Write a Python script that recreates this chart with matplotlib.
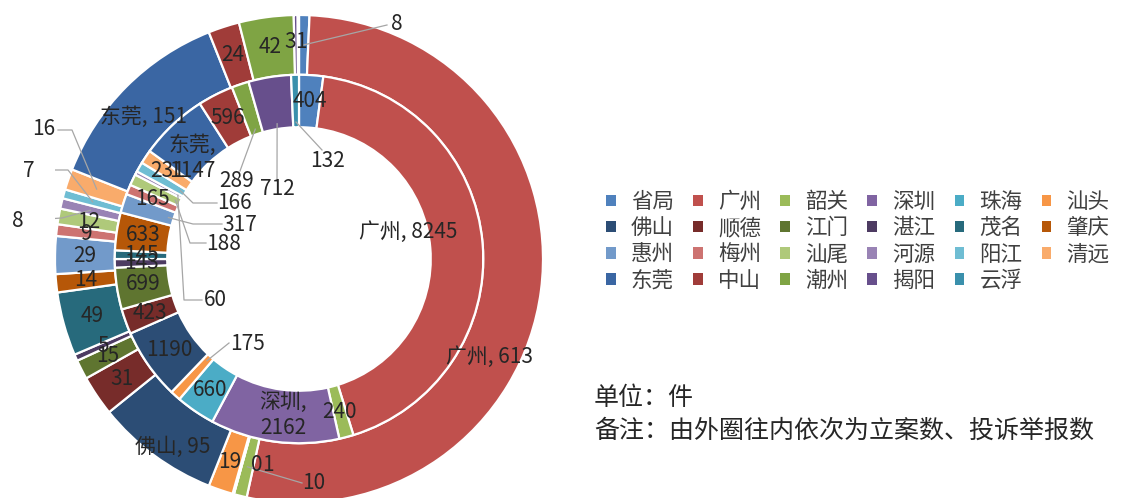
import numpy as np
import matplotlib
matplotlib.use('Agg')
import matplotlib.pyplot as plt
from matplotlib.patches import Patch

plt.rcParams['font.family'] = ['Noto Sans CJK SC', 'DejaVu Sans']

# ---------------- data ----------------
categories = ['省局', '广州', '韶关', '深圳', '珠海', '汕头',
              '佛山', '顺德', '江门', '湛江', '茂名', '肇庆',
              '惠州', '梅州', '汕尾', '河源', '阳江', '清远',
              '东莞', '中山', '潮州', '揭阳', '云浮']
case_counts = [8, 613, 10, 0, 1, 19,
               95, 31, 15, 5, 49, 14,
               29, 9, 12, 8, 7, 16,
               151, 24, 42, 3, 1]
complaint_counts = [404, 8245, 240, 2162, 660, 175,
                    1190, 423, 699, 143, 145, 633,
                    317, 165, 188, 60, 166, 231,
                    1147, 596, 289, 712, 132]
colors = ['#4F81BD', '#C0504D', '#9BBB59', '#8064A2', '#4BACC6', '#F79646',
          '#2C4D75', '#772C2A', '#5F7530', '#4D3B62', '#276A7C', '#B65708',
          '#729ACA', '#CD7371', '#AFC97A', '#9983B5', '#6FBDD3', '#F9AB6B',
          '#3A66A3', '#A03C39', '#7FA444', '#674F8C', '#3A90AC']
unit_text = '单位：件'
note_text = '备注：由外圈往内依次为立案数、投诉举报数'

# ---------------- layout ----------------
W, H = 1131, 498
fig = plt.figure(figsize=(W / 100, H / 100), dpi=100)
CX, CY, R = 299, 259, 244
ax = fig.add_axes([(CX - R) / W, (H - CY - R) / H, 2 * R / W, 2 * R / H])


def P(px, py):
    return ((px - CX) / R, (CY - py) / R)


wp = dict(edgecolor='white', linewidth=1.6)
outer_w, _ = ax.pie(case_counts, radius=1.0, colors=colors, startangle=90,
                    counterclock=False, wedgeprops=dict(width=0.245, **wp))
inner_w, _ = ax.pie(complaint_counts, radius=0.755, colors=colors, startangle=90,
                    counterclock=False, wedgeprops=dict(width=0.215, **wp))
ax.set_xlim(-1, 1)
ax.set_ylim(-1, 1)
ax.set_aspect('equal')
ax.axis('off')

LABEL_FS = 15
TXT = '#262626'
LEAD = '#A6A6A6'

# label formats (category name shown)
outer_named = {'广州': '{c}, {v}', '佛山': '{c}, {v}', '东莞': '{c}, {v}'}
inner_named = {'广州': '{c}, {v}', '深圳': '{c},\n{v}', '东莞': '{c},\n{v}'}

# manually dragged label positions (pixels) and leader elbows
outer_pos = {'省局': (397, 24), '广州': (490, 357), '韶关': (314, 483),
             '深圳': (257, 465), '珠海': (268, 465),
             '揭阳': (290, 42), '云浮': (301, 42),
             '清远': (44, 129), '阳江': (29, 171), '河源': (18, 221),
             '佛山': (173, 447), '东莞': (143, 117)}
outer_lead = {'省局': [(387, 25)], '韶关': [(302, 483)],
              '清远': [(58, 130), (72, 130)], '阳江': [(40, 170), (68, 170)],
              '河源': [(31, 220), (62, 218)]}
inner_pos = {'广州': (408, 232), '云浮': (327, 161), '揭阳': (277, 189),
             '潮州': (237, 181), '阳江': (234, 203), '惠州': (240, 225),
             '汕尾': (224, 244), '河源': (215, 300), '汕头': (247, 344),
             '深圳': (283, 415), '东莞': (192, 158)}
inner_lead = {'云浮': [(322, 150)], '揭阳': [(277, 179)], '潮州': [(240, 171)],
              '阳江': [(217, 203), (193, 203)], '惠州': [(222, 224), (193, 224)],
              '汕尾': [(206, 243), (190, 243)], '河源': [(202, 300), (184, 300)],
              '汕头': [(229, 343)]}


def label_ring(wedges, values, named, pos, lead, lead_r):
    for w, c, v in zip(wedges, categories, values):
        fmt = named.get(c, '{v}')
        s = fmt.format(c=c, v=v)
        ang = np.deg2rad((w.theta1 + w.theta2) / 2)
        rm = w.r - w.width / 2
        if c in pos:
            x, y = P(*pos[c])
        else:
            x, y = rm * np.cos(ang), rm * np.sin(ang)
        ax.text(x, y, s, ha='center', va='center', fontsize=LABEL_FS,
                color=TXT, linespacing=1.25, zorder=5)
        if c in lead:
            pts = [P(*p) for p in lead[c]]
            pts.append((lead_r(w) * np.cos(ang), lead_r(w) * np.sin(ang)))
            xs, ys = zip(*pts)
            ax.plot(xs, ys, color=LEAD, lw=0.9, zorder=4)


label_ring(outer_w, case_counts, outer_named, outer_pos, outer_lead,
           lambda w: w.r - w.width * 0.5)
label_ring(inner_w, complaint_counts, inner_named, inner_pos, inner_lead,
           lambda w: w.r - w.width * 0.9)

# ---------------- legend ----------------
handles = [Patch(facecolor=col, edgecolor='none') for col in colors]
ncol = 6
order = [i for j in range(ncol) for i in range(j, len(categories), ncol)]
leg = fig.legend([handles[i] for i in order], [categories[i] for i in order],
                 ncol=ncol, loc='upper left', bbox_to_anchor=(606 / W, 1 - 191 / H),
                 frameon=False, fontsize=15.5, handlelength=0.45, handleheight=0.45,
                 handletextpad=0.7, columnspacing=0.9, labelspacing=0.2,
                 borderpad=0, borderaxespad=0)
for t in leg.get_texts():
    t.set_color('#404040')

fig.text(594 / W, 1 - 398 / H, unit_text, fontsize=18, color='#262626', va='center')
fig.text(594 / W, 1 - 431 / H, note_text, fontsize=18, color='#262626', va='center')

fig.savefig('out.png', dpi=100)
